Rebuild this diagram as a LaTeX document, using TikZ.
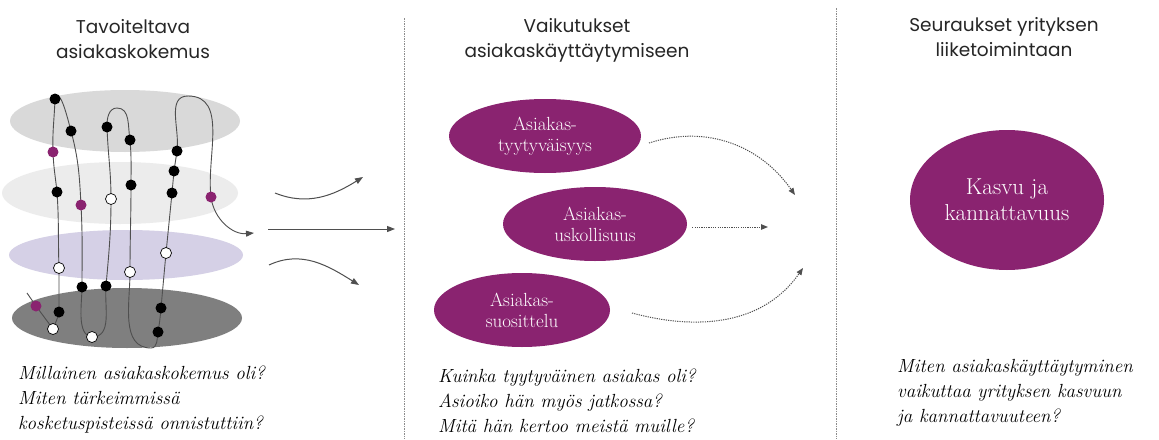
\documentclass[tikz,border=0pt]{standalone}
\usepackage{fontspec}
\newfontfamily\headfont{Poppins}
\usetikzlibrary{shapes.geometric,arrows.meta}

\definecolor{plateA}{HTML}{D9D9D9}
\definecolor{plateB}{HTML}{ECECEC}
\definecolor{plateC}{HTML}{D5D0E6}
\definecolor{plateD}{HTML}{7F7F7F}
\definecolor{berry}{HTML}{8A2370}
\definecolor{wire}{HTML}{4F4F4F}
\definecolor{headgray}{HTML}{262626}
\definecolor{sepgray}{HTML}{8C8C8C}

\tikzset{
  head/.style={font=\headfont\fontsize{18.5}{25}\selectfont, text=headgray, align=center, inner sep=0pt},
  ask/.style={font=\itshape\fontsize{19}{25}\selectfont, text=black, align=left, inner sep=0pt, anchor=north west},
  goal/.style={ellipse, fill=berry, text=white, align=center, inner sep=0pt,
    font=\fontsize{19}{21}\selectfont},
  bigoal/.style={goal, font=\fontsize{23}{26}\selectfont},
  thread/.style={draw=wire, line width=0.9pt},
  flow/.style={draw=wire, line width=1pt, -{Triangle[length=8pt,width=6pt]}},
  hint/.style={draw=wire, line width=1pt, dash pattern=on 1.2pt off 1.1pt,
    -{Triangle[length=7pt,width=5.5pt]}},
  divider/.style={draw=sepgray, line width=0.8pt, dash pattern=on 1.5pt off 1pt},
  bdot/.style={circle, fill=black, inner sep=0pt, minimum size=11pt},
  wdot/.style={circle, draw=black, fill=white, line width=0.7pt, inner sep=0pt, minimum size=11pt},
  pdot/.style={circle, fill=berry, inner sep=0pt, minimum size=11pt},
}

\begin{document}
\begin{tikzpicture}[x=1pt,y=-1pt]
\useasboundingbox (0,0) rectangle (1159,439);
\fill[white] (0,0) rectangle (1159,439);

% column dividers
\draw[divider] (404,18) -- (404,439);
\draw[divider] (836,8) -- (836,439);

% column headings
\node[head] (h1) at (133,39) {Tavoiteltava\\asiakaskokemus};
\node[head] (h2) at (577,40) {Vaikutukset\\asiakaskäyttäytymiseen};
\node[head] (h3) at (1004,37) {Seuraukset yrityksen\\liiketoimintaan};

% stacked experience layers
\fill[plateA] (125,121) ellipse [x radius=115pt, y radius=31pt];
\fill[plateB] (120,193) ellipse [x radius=118pt, y radius=31pt];
\fill[plateC] (126,255) ellipse [x radius=117pt, y radius=25pt];
\fill[plateD] (127,318) ellipse [x radius=115pt, y radius=30pt];

% touchpoints along the customer path
\coordinate (c0) at (27,293);
\coordinate (c1) at (36,306);
\coordinate (c2) at (53,329);
\coordinate (c3) at (59,312);
\coordinate (c4) at (59,268);
\coordinate (c5) at (57,192);
\coordinate (c6) at (53,152);
\coordinate (c7) at (55,99);
\coordinate (c8) at (71,131);
\coordinate (c9) at (81,205);
\coordinate (c10) at (82,287);
\coordinate (c11) at (92,337);
\coordinate (c12) at (106,286);
\coordinate (c13) at (111,199);
\coordinate (c14) at (107,127);
\coordinate (t1) at (117,108);
\coordinate (c15) at (130,140);
\coordinate (c16) at (131,185);
\coordinate (c17) at (130,272);
\coordinate (b2) at (151,348);
\coordinate (c18) at (158,332);
\coordinate (c19) at (161,308);
\coordinate (c20) at (166,253);
\coordinate (c21) at (172,193);
\coordinate (c22) at (174,171);
\coordinate (c23) at (177,151);
\coordinate (t2) at (188,96);
\coordinate (c24) at (211,197);
\coordinate (tip) at (254,233);

\draw[thread, -{Triangle[length=8pt,width=6pt]}]
  (c0) -- (c1) -- (c2) to[out=70,in=-100] (c3) to[out=90,in=-90] (c4)
  to[out=92,in=-86] (c5) to[out=96,in=-88] (c6) to[out=92,in=-92] (c7)
  to[out=70,in=105] (c8) to[out=-75,in=93] (c9) to[out=-87,in=90] (c10)
  to[out=-90,in=175,looseness=0.8] (c11) to[out=0,in=-95] (c12)
  to[out=85,in=-90] (c13) to[out=90,in=-88] (c14) to[out=92,in=180] (t1)
  to[out=0,in=100] (c15) to[out=-85,in=90] (c16) to[out=-90,in=90] (c17)
  to[out=-90,in=180] (b2) to[out=0,in=-100] (c18) to[out=80,in=-95] (c19)
  -- (c20) -- (c21) -- (c22) -- (c23) to[out=82,in=180] (t2)
  to[out=0,in=97] (c24) to[out=-83,in=185] (tip);

\foreach \p in {c3,c5,c7,c8,c10,c12,c14,c15,c16,c18,c19,c21,c22,c23}
  \node[bdot] at (\p) {};
\foreach \p in {c2,c4,c11,c13,c17,c20}
  \node[wdot] at (\p) {};
\foreach \p in {c1,c6,c9,c24}
  \node[pdot] at (\p) {};

% transition arrows between the first two columns
\coordinate (a1s) at (275,193);
\coordinate (a1e) at (363,177);
\coordinate (a2s) at (268,229);
\coordinate (a2e) at (395,229);
\coordinate (a3s) at (269,265);
\coordinate (a3e) at (359,285);
\draw[flow] (a1s) to[out=-22,in=212] (a1e);
\draw[flow] (a2s) -- (a2e);
\draw[flow] (a3s) to[out=25,in=148] (a3e);

% effects on customer behaviour
\node[goal, minimum width=192pt, minimum height=74pt] (ty) at (545,136) {Asiakas-\\tyytyväisyys};
\node[goal, minimum width=184pt, minimum height=74pt] (us) at (595,224) {Asiakas-\\uskollisuus};
\node[goal, minimum width=176pt, minimum height=74pt] (su) at (522,310) {Asiakas-\\suosittelu};

\coordinate (d1s) at (649,143);
\coordinate (d1e) at (795,195);
\coordinate (d2e) at (768,227);
\coordinate (d3s) at (632,313);
\coordinate (d3e) at (803,268);
\draw[hint] (d1s) to[out=18,in=125] (d1e);
\draw[hint, shorten <=5pt] (us.east |- d2e) -- (d2e);
\draw[hint] (d3s) to[out=-15,in=-125] (d3e);

% business outcome
\node[bigoal, minimum width=194pt, minimum height=140pt] (kk) at (1007,200) {Kasvu ja\\kannattavuus};

% guiding questions
\node[ask] (q1) at (18,366) {Millainen asiakaskokemus oli?\\Miten tärkeimmissä\\kosketuspisteissä onnistuttiin?};
\node[ask] (q2) at (438,369) {Kuinka tyytyväinen asiakas oli?\\Asioiko hän myös jatkossa?\\Mitä hän kertoo meistä muille?};
\node[ask] (q3) at (897,359) {Miten asiakaskäyttäytyminen\\vaikuttaa yrityksen kasvuun\\ja kannattavuuteen?};
\end{tikzpicture}
\end{document}
